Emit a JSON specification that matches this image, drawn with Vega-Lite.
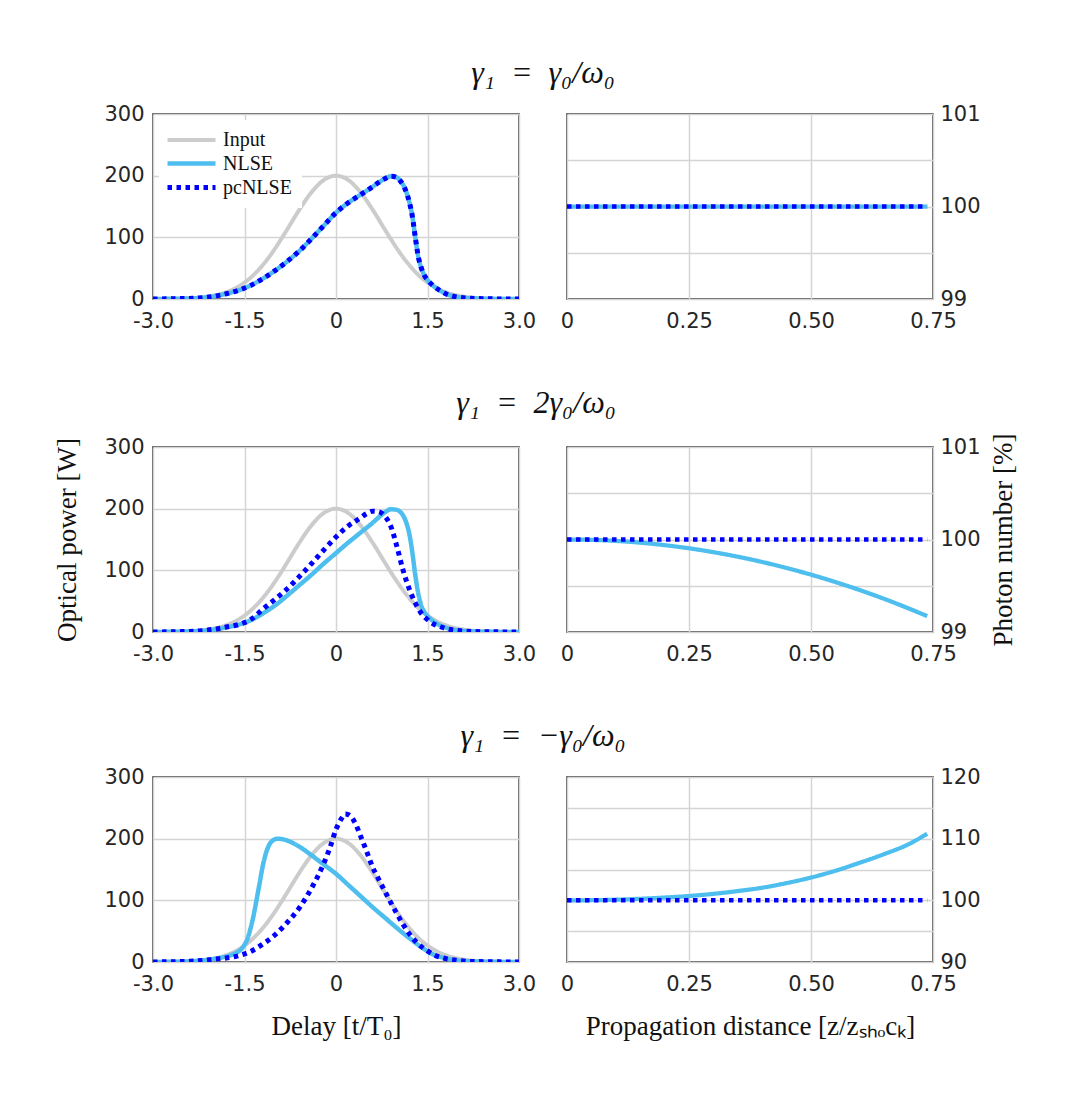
{
  "$schema": "https://vega.github.io/schema/vega-lite/v6.json",
  "background": "white",
  "padding": {"left": 53, "top": 57, "right": 10, "bottom": 10},
  "config": {
    "view": {"stroke": "#262626", "strokeWidth": 1.5},
    "axis": {
      "labelFont": "DejaVu Sans", "labelFontSize": 21, "labelColor": "#262626",
      "grid": true, "gridColor": "#d4d4d4", "gridWidth": 1.5,
      "ticks": false, "domain": false, "labelFlush": false, "labelOverlap": false, "labelBound": false,
      "titleFont": "Liberation Serif", "titleFontSize": 27, "titleFontWeight": "normal", "titleColor": "#111111"
    },
    "title": {"font": "Liberation Serif", "fontSize": 32, "fontWeight": "normal", "fontStyle": "italic", "color": "#111111", "anchor": "middle", "offset": 12}
  },
  "datasets": {
    "left": [
      {"p":0,"s":"Input","t":-3,"v":0.06},{"p":0,"s":"Input","t":-2.8,"v":0.2},{"p":0,"s":"Input","t":-2.6,"v":0.5},{"p":0,"s":"Input","t":-2.4,"v":1.2},{"p":0,"s":"Input","t":-2.2,"v":2.6},{"p":0,"s":"Input","t":-2,"v":5.6},{"p":0,"s":"Input","t":-1.8,"v":11.0},{"p":0,"s":"Input","t":-1.6,"v":20.2},{"p":0,"s":"Input","t":-1.4,"v":34.6},{"p":0,"s":"Input","t":-1.2,"v":55.1},{"p":0,"s":"Input","t":-1.1,"v":67.7},{"p":0,"s":"Input","t":-1,"v":81.7},{"p":0,"s":"Input","t":-0.9,"v":96.9},{"p":0,"s":"Input","t":-0.8,"v":112.8},{"p":0,"s":"Input","t":-0.6,"v":144.9},{"p":0,"s":"Input","t":-0.4,"v":173.3},{"p":0,"s":"Input","t":-0.2,"v":193.0},{"p":0,"s":"Input","t":0,"v":200},{"p":0,"s":"Input","t":0.2,"v":193.0},{"p":0,"s":"Input","t":0.4,"v":173.3},{"p":0,"s":"Input","t":0.6,"v":144.9},{"p":0,"s":"Input","t":0.8,"v":112.8},{"p":0,"s":"Input","t":0.9,"v":96.9},{"p":0,"s":"Input","t":1,"v":81.7},{"p":0,"s":"Input","t":1.1,"v":67.7},{"p":0,"s":"Input","t":1.2,"v":55.1},{"p":0,"s":"Input","t":1.4,"v":34.6},{"p":0,"s":"Input","t":1.6,"v":20.2},{"p":0,"s":"Input","t":1.8,"v":11.0},{"p":0,"s":"Input","t":2,"v":5.6},{"p":0,"s":"Input","t":2.2,"v":2.6},{"p":0,"s":"Input","t":2.4,"v":1.2},{"p":0,"s":"Input","t":2.6,"v":0.5},{"p":0,"s":"Input","t":2.8,"v":0.2},{"p":0,"s":"Input","t":3,"v":0.06},

      {"p":1,"s":"NLSE","t":-3,"v":0.1},{"p":1,"s":"NLSE","t":-2.6,"v":0.5},{"p":1,"s":"NLSE","t":-2.4,"v":1.0},{"p":1,"s":"NLSE","t":-2.2,"v":2.0},{"p":1,"s":"NLSE","t":-2,"v":4.5},{"p":1,"s":"NLSE","t":-1.8,"v":8.5},{"p":1,"s":"NLSE","t":-1.6,"v":14},{"p":1,"s":"NLSE","t":-1.4,"v":22},{"p":1,"s":"NLSE","t":-1.2,"v":33},{"p":1,"s":"NLSE","t":-1,"v":46},{"p":1,"s":"NLSE","t":-0.8,"v":61},{"p":1,"s":"NLSE","t":-0.6,"v":78},{"p":1,"s":"NLSE","t":-0.4,"v":98},{"p":1,"s":"NLSE","t":-0.2,"v":119},{"p":1,"s":"NLSE","t":0,"v":140},{"p":1,"s":"NLSE","t":0.2,"v":156},{"p":1,"s":"NLSE","t":0.4,"v":169},{"p":1,"s":"NLSE","t":0.6,"v":182},{"p":1,"s":"NLSE","t":0.7,"v":189},{"p":1,"s":"NLSE","t":0.8,"v":195},{"p":1,"s":"NLSE","t":0.9,"v":199},{"p":1,"s":"NLSE","t":1,"v":197},{"p":1,"s":"NLSE","t":1.05,"v":192},{"p":1,"s":"NLSE","t":1.1,"v":185},{"p":1,"s":"NLSE","t":1.15,"v":174},{"p":1,"s":"NLSE","t":1.2,"v":158},{"p":1,"s":"NLSE","t":1.25,"v":135},{"p":1,"s":"NLSE","t":1.3,"v":100},{"p":1,"s":"NLSE","t":1.35,"v":68},{"p":1,"s":"NLSE","t":1.4,"v":50},{"p":1,"s":"NLSE","t":1.45,"v":38},{"p":1,"s":"NLSE","t":1.5,"v":31},{"p":1,"s":"NLSE","t":1.6,"v":21},{"p":1,"s":"NLSE","t":1.7,"v":14},{"p":1,"s":"NLSE","t":1.8,"v":8.5},{"p":1,"s":"NLSE","t":1.9,"v":5},{"p":1,"s":"NLSE","t":2,"v":3},{"p":1,"s":"NLSE","t":2.2,"v":1.2},{"p":1,"s":"NLSE","t":2.4,"v":0.5},{"p":1,"s":"NLSE","t":2.6,"v":0.2},{"p":1,"s":"NLSE","t":3,"v":0},

      {"p":1,"s":"pcNLSE","t":-3,"v":0.1},{"p":1,"s":"pcNLSE","t":-2.6,"v":0.5},{"p":1,"s":"pcNLSE","t":-2.4,"v":1.0},{"p":1,"s":"pcNLSE","t":-2.2,"v":2.0},{"p":1,"s":"pcNLSE","t":-2,"v":4.5},{"p":1,"s":"pcNLSE","t":-1.8,"v":8.5},{"p":1,"s":"pcNLSE","t":-1.6,"v":14},{"p":1,"s":"pcNLSE","t":-1.4,"v":22},{"p":1,"s":"pcNLSE","t":-1.2,"v":33},{"p":1,"s":"pcNLSE","t":-1,"v":46},{"p":1,"s":"pcNLSE","t":-0.8,"v":61},{"p":1,"s":"pcNLSE","t":-0.6,"v":78},{"p":1,"s":"pcNLSE","t":-0.4,"v":98},{"p":1,"s":"pcNLSE","t":-0.2,"v":119},{"p":1,"s":"pcNLSE","t":0,"v":140},{"p":1,"s":"pcNLSE","t":0.2,"v":156},{"p":1,"s":"pcNLSE","t":0.4,"v":169},{"p":1,"s":"pcNLSE","t":0.6,"v":182},{"p":1,"s":"pcNLSE","t":0.7,"v":189},{"p":1,"s":"pcNLSE","t":0.8,"v":195},{"p":1,"s":"pcNLSE","t":0.9,"v":199},{"p":1,"s":"pcNLSE","t":1,"v":197},{"p":1,"s":"pcNLSE","t":1.05,"v":192},{"p":1,"s":"pcNLSE","t":1.1,"v":185},{"p":1,"s":"pcNLSE","t":1.15,"v":174},{"p":1,"s":"pcNLSE","t":1.2,"v":158},{"p":1,"s":"pcNLSE","t":1.25,"v":135},{"p":1,"s":"pcNLSE","t":1.3,"v":100},{"p":1,"s":"pcNLSE","t":1.35,"v":68},{"p":1,"s":"pcNLSE","t":1.4,"v":50},{"p":1,"s":"pcNLSE","t":1.45,"v":38},{"p":1,"s":"pcNLSE","t":1.5,"v":31},{"p":1,"s":"pcNLSE","t":1.6,"v":21},{"p":1,"s":"pcNLSE","t":1.7,"v":14},{"p":1,"s":"pcNLSE","t":1.8,"v":8.5},{"p":1,"s":"pcNLSE","t":1.9,"v":5},{"p":1,"s":"pcNLSE","t":2,"v":3},{"p":1,"s":"pcNLSE","t":2.2,"v":1.2},{"p":1,"s":"pcNLSE","t":2.4,"v":0.5},{"p":1,"s":"pcNLSE","t":2.6,"v":0.2},{"p":1,"s":"pcNLSE","t":3,"v":0},

      {"p":2,"s":"NLSE","t":-3,"v":0.1},{"p":2,"s":"NLSE","t":-2.6,"v":0.5},{"p":2,"s":"NLSE","t":-2.4,"v":1},{"p":2,"s":"NLSE","t":-2.2,"v":2},{"p":2,"s":"NLSE","t":-2,"v":4},{"p":2,"s":"NLSE","t":-1.8,"v":7.5},{"p":2,"s":"NLSE","t":-1.6,"v":12},{"p":2,"s":"NLSE","t":-1.4,"v":19},{"p":2,"s":"NLSE","t":-1.2,"v":30},{"p":2,"s":"NLSE","t":-1,"v":43},{"p":2,"s":"NLSE","t":-0.8,"v":59},{"p":2,"s":"NLSE","t":-0.6,"v":76},{"p":2,"s":"NLSE","t":-0.4,"v":93},{"p":2,"s":"NLSE","t":-0.2,"v":111},{"p":2,"s":"NLSE","t":0,"v":128},{"p":2,"s":"NLSE","t":0.2,"v":145},{"p":2,"s":"NLSE","t":0.4,"v":161},{"p":2,"s":"NLSE","t":0.6,"v":177},{"p":2,"s":"NLSE","t":0.7,"v":186},{"p":2,"s":"NLSE","t":0.8,"v":194},{"p":2,"s":"NLSE","t":0.9,"v":199},{"p":2,"s":"NLSE","t":1,"v":198},{"p":2,"s":"NLSE","t":1.05,"v":195},{"p":2,"s":"NLSE","t":1.1,"v":189},{"p":2,"s":"NLSE","t":1.15,"v":178},{"p":2,"s":"NLSE","t":1.2,"v":160},{"p":2,"s":"NLSE","t":1.25,"v":130},{"p":2,"s":"NLSE","t":1.3,"v":92},{"p":2,"s":"NLSE","t":1.35,"v":62},{"p":2,"s":"NLSE","t":1.4,"v":42},{"p":2,"s":"NLSE","t":1.45,"v":32},{"p":2,"s":"NLSE","t":1.5,"v":26},{"p":2,"s":"NLSE","t":1.6,"v":17},{"p":2,"s":"NLSE","t":1.7,"v":11},{"p":2,"s":"NLSE","t":1.8,"v":7},{"p":2,"s":"NLSE","t":1.9,"v":4},{"p":2,"s":"NLSE","t":2,"v":2.5},{"p":2,"s":"NLSE","t":2.2,"v":1},{"p":2,"s":"NLSE","t":2.6,"v":0.2},{"p":2,"s":"NLSE","t":3,"v":0},

      {"p":2,"s":"pcNLSE","t":-3,"v":0.1},{"p":2,"s":"pcNLSE","t":-2.6,"v":0.5},{"p":2,"s":"pcNLSE","t":-2.4,"v":1},{"p":2,"s":"pcNLSE","t":-2.2,"v":2.2},{"p":2,"s":"pcNLSE","t":-2,"v":4.5},{"p":2,"s":"pcNLSE","t":-1.8,"v":8},{"p":2,"s":"pcNLSE","t":-1.6,"v":12},{"p":2,"s":"pcNLSE","t":-1.4,"v":20},{"p":2,"s":"pcNLSE","t":-1.2,"v":37},{"p":2,"s":"pcNLSE","t":-1,"v":53},{"p":2,"s":"pcNLSE","t":-0.8,"v":70},{"p":2,"s":"pcNLSE","t":-0.6,"v":90},{"p":2,"s":"pcNLSE","t":-0.4,"v":111},{"p":2,"s":"pcNLSE","t":-0.2,"v":133},{"p":2,"s":"pcNLSE","t":0,"v":154},{"p":2,"s":"pcNLSE","t":0.2,"v":172},{"p":2,"s":"pcNLSE","t":0.4,"v":185},{"p":2,"s":"pcNLSE","t":0.5,"v":192},{"p":2,"s":"pcNLSE","t":0.6,"v":196},{"p":2,"s":"pcNLSE","t":0.7,"v":195},{"p":2,"s":"pcNLSE","t":0.8,"v":188},{"p":2,"s":"pcNLSE","t":0.9,"v":171},{"p":2,"s":"pcNLSE","t":1,"v":138},{"p":2,"s":"pcNLSE","t":1.1,"v":100},{"p":2,"s":"pcNLSE","t":1.2,"v":70},{"p":2,"s":"pcNLSE","t":1.3,"v":47},{"p":2,"s":"pcNLSE","t":1.4,"v":30},{"p":2,"s":"pcNLSE","t":1.5,"v":20},{"p":2,"s":"pcNLSE","t":1.6,"v":13},{"p":2,"s":"pcNLSE","t":1.7,"v":9},{"p":2,"s":"pcNLSE","t":1.8,"v":5.5},{"p":2,"s":"pcNLSE","t":2,"v":2.5},{"p":2,"s":"pcNLSE","t":2.2,"v":1},{"p":2,"s":"pcNLSE","t":2.6,"v":0.3},{"p":2,"s":"pcNLSE","t":3,"v":0},

      {"p":3,"s":"NLSE","t":-3,"v":0},{"p":3,"s":"NLSE","t":-2.6,"v":0.5},{"p":3,"s":"NLSE","t":-2.4,"v":1.2},{"p":3,"s":"NLSE","t":-2.2,"v":2.5},{"p":3,"s":"NLSE","t":-2,"v":5},{"p":3,"s":"NLSE","t":-1.8,"v":9},{"p":3,"s":"NLSE","t":-1.7,"v":12},{"p":3,"s":"NLSE","t":-1.6,"v":17},{"p":3,"s":"NLSE","t":-1.55,"v":21},{"p":3,"s":"NLSE","t":-1.5,"v":28},{"p":3,"s":"NLSE","t":-1.45,"v":38},{"p":3,"s":"NLSE","t":-1.4,"v":55},{"p":3,"s":"NLSE","t":-1.35,"v":76},{"p":3,"s":"NLSE","t":-1.3,"v":102},{"p":3,"s":"NLSE","t":-1.25,"v":129},{"p":3,"s":"NLSE","t":-1.2,"v":156},{"p":3,"s":"NLSE","t":-1.15,"v":176},{"p":3,"s":"NLSE","t":-1.1,"v":189},{"p":3,"s":"NLSE","t":-1.05,"v":196},{"p":3,"s":"NLSE","t":-1,"v":199},{"p":3,"s":"NLSE","t":-0.95,"v":200},{"p":3,"s":"NLSE","t":-0.9,"v":199.5},{"p":3,"s":"NLSE","t":-0.8,"v":197},{"p":3,"s":"NLSE","t":-0.6,"v":187},{"p":3,"s":"NLSE","t":-0.4,"v":173},{"p":3,"s":"NLSE","t":-0.2,"v":158},{"p":3,"s":"NLSE","t":0,"v":143},{"p":3,"s":"NLSE","t":0.2,"v":125},{"p":3,"s":"NLSE","t":0.4,"v":107},{"p":3,"s":"NLSE","t":0.6,"v":89},{"p":3,"s":"NLSE","t":0.8,"v":72},{"p":3,"s":"NLSE","t":1,"v":55},{"p":3,"s":"NLSE","t":1.2,"v":39},{"p":3,"s":"NLSE","t":1.4,"v":24},{"p":3,"s":"NLSE","t":1.6,"v":12},{"p":3,"s":"NLSE","t":1.8,"v":6},{"p":3,"s":"NLSE","t":2,"v":2.5},{"p":3,"s":"NLSE","t":2.2,"v":1.2},{"p":3,"s":"NLSE","t":2.6,"v":0.3},{"p":3,"s":"NLSE","t":3,"v":0},

      {"p":3,"s":"pcNLSE","t":-3,"v":0.1},{"p":3,"s":"pcNLSE","t":-2.6,"v":0.6},{"p":3,"s":"pcNLSE","t":-2.4,"v":1.3},{"p":3,"s":"pcNLSE","t":-2.2,"v":2.5},{"p":3,"s":"pcNLSE","t":-2,"v":4.5},{"p":3,"s":"pcNLSE","t":-1.8,"v":6.5},{"p":3,"s":"pcNLSE","t":-1.6,"v":10},{"p":3,"s":"pcNLSE","t":-1.4,"v":17},{"p":3,"s":"pcNLSE","t":-1.2,"v":29},{"p":3,"s":"pcNLSE","t":-1,"v":44},{"p":3,"s":"pcNLSE","t":-0.8,"v":64},{"p":3,"s":"pcNLSE","t":-0.6,"v":88},{"p":3,"s":"pcNLSE","t":-0.4,"v":120},{"p":3,"s":"pcNLSE","t":-0.2,"v":160},{"p":3,"s":"pcNLSE","t":-0.1,"v":185},{"p":3,"s":"pcNLSE","t":0,"v":215},{"p":3,"s":"pcNLSE","t":0.1,"v":234},{"p":3,"s":"pcNLSE","t":0.15,"v":240},{"p":3,"s":"pcNLSE","t":0.2,"v":239},{"p":3,"s":"pcNLSE","t":0.3,"v":228},{"p":3,"s":"pcNLSE","t":0.4,"v":205},{"p":3,"s":"pcNLSE","t":0.5,"v":180},{"p":3,"s":"pcNLSE","t":0.6,"v":154},{"p":3,"s":"pcNLSE","t":0.7,"v":134},{"p":3,"s":"pcNLSE","t":0.8,"v":115},{"p":3,"s":"pcNLSE","t":0.9,"v":96},{"p":3,"s":"pcNLSE","t":1,"v":78},{"p":3,"s":"pcNLSE","t":1.1,"v":61},{"p":3,"s":"pcNLSE","t":1.2,"v":46},{"p":3,"s":"pcNLSE","t":1.3,"v":34},{"p":3,"s":"pcNLSE","t":1.4,"v":25},{"p":3,"s":"pcNLSE","t":1.5,"v":18},{"p":3,"s":"pcNLSE","t":1.6,"v":12},{"p":3,"s":"pcNLSE","t":1.8,"v":5.5},{"p":3,"s":"pcNLSE","t":2,"v":2.5},{"p":3,"s":"pcNLSE","t":2.2,"v":1},{"p":3,"s":"pcNLSE","t":2.6,"v":0.3},{"p":3,"s":"pcNLSE","t":3,"v":0}
    ],
    "right": [
      {"p":1,"s":"NLSE","z":0,"n":100},{"p":1,"s":"NLSE","z":0.738,"n":100},
      {"p":1,"s":"pcNLSE","z":0,"n":100},{"p":1,"s":"pcNLSE","z":0.738,"n":100},
      {"p":2,"s":"NLSE","z":0,"n":100},{"p":2,"s":"NLSE","z":0.05,"n":99.996},{"p":2,"s":"NLSE","z":0.1,"n":99.985},{"p":2,"s":"NLSE","z":0.15,"n":99.966},{"p":2,"s":"NLSE","z":0.2,"n":99.939},{"p":2,"s":"NLSE","z":0.25,"n":99.905},{"p":2,"s":"NLSE","z":0.3,"n":99.863},{"p":2,"s":"NLSE","z":0.35,"n":99.814},{"p":2,"s":"NLSE","z":0.4,"n":99.757},{"p":2,"s":"NLSE","z":0.45,"n":99.692},{"p":2,"s":"NLSE","z":0.5,"n":99.62},{"p":2,"s":"NLSE","z":0.55,"n":99.54},{"p":2,"s":"NLSE","z":0.6,"n":99.453},{"p":2,"s":"NLSE","z":0.65,"n":99.358},{"p":2,"s":"NLSE","z":0.7,"n":99.255},{"p":2,"s":"NLSE","z":0.738,"n":99.172},
      {"p":2,"s":"pcNLSE","z":0,"n":100},{"p":2,"s":"pcNLSE","z":0.738,"n":100},
      {"p":3,"s":"NLSE","z":0,"n":100},{"p":3,"s":"NLSE","z":0.05,"n":100.02},{"p":3,"s":"NLSE","z":0.1,"n":100.1},{"p":3,"s":"NLSE","z":0.15,"n":100.25},{"p":3,"s":"NLSE","z":0.2,"n":100.45},{"p":3,"s":"NLSE","z":0.25,"n":100.7},{"p":3,"s":"NLSE","z":0.3,"n":101.05},{"p":3,"s":"NLSE","z":0.35,"n":101.5},{"p":3,"s":"NLSE","z":0.4,"n":102.05},{"p":3,"s":"NLSE","z":0.45,"n":102.8},{"p":3,"s":"NLSE","z":0.5,"n":103.7},{"p":3,"s":"NLSE","z":0.55,"n":104.8},{"p":3,"s":"NLSE","z":0.6,"n":106.1},{"p":3,"s":"NLSE","z":0.65,"n":107.5},{"p":3,"s":"NLSE","z":0.7,"n":109.1},{"p":3,"s":"NLSE","z":0.738,"n":110.8},
      {"p":3,"s":"pcNLSE","z":0,"n":100},{"p":3,"s":"pcNLSE","z":0.738,"n":100}
    ]
  },
  "spacing": 55,
  "resolve": {
    "scale": {"color": "independent", "strokeDash": "independent", "strokeWidth": "independent"},
    "legend": {"color": "independent", "strokeDash": "independent", "strokeWidth": "independent"}
  },
  "vconcat": [
    {
      "title": {"text": "γ₁\u2002=\u2002γ₀/ω₀", "dx": 1},
      "spacing": 22,
      "resolve": {
        "scale": {"color": "independent", "strokeDash": "independent", "strokeWidth": "independent"},
        "legend": {"color": "independent", "strokeDash": "independent", "strokeWidth": "independent"}
      },
      "hconcat": [
        {
          "width": 366, "height": 185,
          "data": {"name": "left"},
          "transform": [{"filter": "datum.p == 0 || datum.p == 1"}],
          "mark": {"type": "line", "interpolate": "monotone", "clip": true},
          "encoding": {
            "x": {"field": "t", "type": "quantitative", "scale": {"domain": [-3, 3], "nice": false, "zero": false},
                  "axis": {"values": [-3, -1.5, 0, 1.5, 3], "labelPadding": 11, "title": null,
                           "labelExpr": "datum.value == 0 ? '0' : (datum.value < 0 ? '-' : '') + format(abs(datum.value), '.1f')"}},
            "y": {"field": "v", "type": "quantitative", "scale": {"domain": [0, 300], "nice": false},
                  "axis": {"values": [0, 100, 200, 300], "labelPadding": 9, "title": null}},
            "color": {"field": "s", "type": "nominal",
                      "scale": {"domain": ["Input", "NLSE", "pcNLSE"], "range": ["#cccccc", "#4dbeee", "#0000ff"]},
                      "legend": {"title": null, "orient": "top-left", "offset": 6, "padding": 10, "fillColor": "white",
                                 "symbolType": "M-1.5,0H4.5", "symbolSize": 256, "labelOffset": 33,
                                 "labelFont": "Liberation Serif", "labelFontSize": 20, "labelColor": "#111111", "rowPadding": 3}},
            "strokeDash": {"field": "s", "type": "nominal",
                      "scale": {"domain": ["Input", "NLSE", "pcNLSE"], "range": [[1, 0], [1, 0], [4.5, 4.5]]},
                      "legend": {"title": null, "orient": "top-left", "offset": 6, "padding": 10, "fillColor": "white",
                                 "symbolType": "M-1.5,0H4.5", "symbolSize": 256, "labelOffset": 33,
                                 "labelFont": "Liberation Serif", "labelFontSize": 20, "labelColor": "#111111", "rowPadding": 3}},
            "strokeWidth": {"field": "s", "type": "ordinal",
                      "scale": {"domain": ["Input", "NLSE", "pcNLSE"], "range": [4, 5, 4]},
                      "legend": {"title": null, "orient": "top-left", "offset": 6, "padding": 10, "fillColor": "white",
                                 "symbolType": "M-1.5,0H4.5", "symbolSize": 256, "labelOffset": 33,
                                 "labelFont": "Liberation Serif", "labelFontSize": 20, "labelColor": "#111111", "rowPadding": 3}}
          }
        },
        {
          "width": 366, "height": 185,
          "data": {"name": "right"},
          "transform": [{"filter": "datum.p == 1"}],
          "mark": {"type": "line", "interpolate": "monotone", "clip": true},
          "encoding": {
            "x": {"field": "z", "type": "quantitative", "scale": {"domain": [0, 0.75], "nice": false, "zero": false},
                  "axis": {"values": [0, 0.25, 0.5, 0.75], "labelPadding": 11, "title": null,
                           "labelExpr": "datum.value == 0 ? '0' : format(datum.value, '.2f')"}},
            "y": {"field": "n", "type": "quantitative", "scale": {"domain": [99, 101], "nice": false, "zero": false},
                  "axis": {"orient": "right", "values": [99, 99.5, 100, 100.5, 101], "labelPadding": 7, "title": null,
                           "labelExpr": "datum.value % 1 == 0 ? format(datum.value, 'd') : ''"}},
            "color": {"field": "s", "type": "nominal", "scale": {"domain": ["Input", "NLSE", "pcNLSE"], "range": ["#cccccc", "#4dbeee", "#0000ff"]}, "legend": null},
            "strokeDash": {"field": "s", "type": "nominal", "scale": {"domain": ["Input", "NLSE", "pcNLSE"], "range": [[1, 0], [1, 0], [4.5, 4.5]]}, "legend": null},
            "strokeWidth": {"field": "s", "type": "ordinal", "scale": {"domain": ["Input", "NLSE", "pcNLSE"], "range": [4, 4.5, 4]}, "legend": null}
          }
        }
      ]
    },
    {
      "title": {"text": "γ₁\u2002=\u20022γ₀/ω₀", "dx": 1},
      "spacing": 22,
      "resolve": {
        "scale": {"color": "independent", "strokeDash": "independent", "strokeWidth": "independent"},
        "legend": {"color": "independent", "strokeDash": "independent", "strokeWidth": "independent"}
      },
      "hconcat": [
        {
          "width": 366, "height": 185,
          "data": {"name": "left"},
          "transform": [{"filter": "datum.p == 0 || datum.p == 2"}],
          "mark": {"type": "line", "interpolate": "monotone", "clip": true},
          "encoding": {
            "x": {"field": "t", "type": "quantitative", "scale": {"domain": [-3, 3], "nice": false, "zero": false},
                  "axis": {"values": [-3, -1.5, 0, 1.5, 3], "labelPadding": 11, "title": null,
                           "labelExpr": "datum.value == 0 ? '0' : (datum.value < 0 ? '-' : '') + format(abs(datum.value), '.1f')"}},
            "y": {"field": "v", "type": "quantitative", "scale": {"domain": [0, 300], "nice": false},
                  "axis": {"values": [0, 100, 200, 300], "labelPadding": 9, "title": "Optical power [W]", "titlePadding": 22}},
            "color": {"field": "s", "type": "nominal", "scale": {"domain": ["Input", "NLSE", "pcNLSE"], "range": ["#cccccc", "#4dbeee", "#0000ff"]}, "legend": null},
            "strokeDash": {"field": "s", "type": "nominal", "scale": {"domain": ["Input", "NLSE", "pcNLSE"], "range": [[1, 0], [1, 0], [4.5, 4.5]]}, "legend": null},
            "strokeWidth": {"field": "s", "type": "ordinal", "scale": {"domain": ["Input", "NLSE", "pcNLSE"], "range": [4, 5, 4]}, "legend": null}
          }
        },
        {
          "width": 366, "height": 185,
          "data": {"name": "right"},
          "transform": [{"filter": "datum.p == 2"}],
          "mark": {"type": "line", "interpolate": "monotone", "clip": true},
          "encoding": {
            "x": {"field": "z", "type": "quantitative", "scale": {"domain": [0, 0.75], "nice": false, "zero": false},
                  "axis": {"values": [0, 0.25, 0.5, 0.75], "labelPadding": 11, "title": null,
                           "labelExpr": "datum.value == 0 ? '0' : format(datum.value, '.2f')"}},
            "y": {"field": "n", "type": "quantitative", "scale": {"domain": [99, 101], "nice": false, "zero": false},
                  "axis": {"orient": "right", "values": [99, 99.5, 100, 100.5, 101], "labelPadding": 7,
                           "title": "Photon number [%]", "titleAngle": 270, "titlePadding": 37,
                           "labelExpr": "datum.value % 1 == 0 ? format(datum.value, 'd') : ''"}},
            "color": {"field": "s", "type": "nominal", "scale": {"domain": ["Input", "NLSE", "pcNLSE"], "range": ["#cccccc", "#4dbeee", "#0000ff"]}, "legend": null},
            "strokeDash": {"field": "s", "type": "nominal", "scale": {"domain": ["Input", "NLSE", "pcNLSE"], "range": [[1, 0], [1, 0], [4.5, 4.5]]}, "legend": null},
            "strokeWidth": {"field": "s", "type": "ordinal", "scale": {"domain": ["Input", "NLSE", "pcNLSE"], "range": [4, 4.5, 4]}, "legend": null}
          }
        }
      ]
    },
    {
      "title": {"text": "γ₁\u2002=\u2002−γ₀/ω₀", "dx": 1},
      "spacing": 22,
      "resolve": {
        "scale": {"color": "independent", "strokeDash": "independent", "strokeWidth": "independent"},
        "legend": {"color": "independent", "strokeDash": "independent", "strokeWidth": "independent"}
      },
      "hconcat": [
        {
          "width": 366, "height": 185,
          "data": {"name": "left"},
          "transform": [{"filter": "datum.p == 0 || datum.p == 3"}],
          "mark": {"type": "line", "interpolate": "monotone", "clip": true},
          "encoding": {
            "x": {"field": "t", "type": "quantitative", "scale": {"domain": [-3, 3], "nice": false, "zero": false},
                  "axis": {"values": [-3, -1.5, 0, 1.5, 3], "labelPadding": 11, "title": "Delay [t/T₀]", "titlePadding": 19,
                           "labelExpr": "datum.value == 0 ? '0' : (datum.value < 0 ? '-' : '') + format(abs(datum.value), '.1f')"}},
            "y": {"field": "v", "type": "quantitative", "scale": {"domain": [0, 300], "nice": false},
                  "axis": {"values": [0, 100, 200, 300], "labelPadding": 9, "title": null}},
            "color": {"field": "s", "type": "nominal", "scale": {"domain": ["Input", "NLSE", "pcNLSE"], "range": ["#cccccc", "#4dbeee", "#0000ff"]}, "legend": null},
            "strokeDash": {"field": "s", "type": "nominal", "scale": {"domain": ["Input", "NLSE", "pcNLSE"], "range": [[1, 0], [1, 0], [4.5, 4.5]]}, "legend": null},
            "strokeWidth": {"field": "s", "type": "ordinal", "scale": {"domain": ["Input", "NLSE", "pcNLSE"], "range": [4, 5, 4]}, "legend": null}
          }
        },
        {
          "width": 366, "height": 185,
          "data": {"name": "right"},
          "transform": [{"filter": "datum.p == 3"}],
          "mark": {"type": "line", "interpolate": "monotone", "clip": true},
          "encoding": {
            "x": {"field": "z", "type": "quantitative", "scale": {"domain": [0, 0.75], "nice": false, "zero": false},
                  "axis": {"values": [0, 0.25, 0.5, 0.75], "labelPadding": 11, "title": "Propagation distance [z/zₛₕₒcₖ]", "titlePadding": 19,
                           "labelExpr": "datum.value == 0 ? '0' : format(datum.value, '.2f')"}},
            "y": {"field": "n", "type": "quantitative", "scale": {"domain": [90, 120], "nice": false, "zero": false},
                  "axis": {"orient": "right", "values": [90, 95, 100, 105, 110, 115, 120], "labelPadding": 7, "title": null,
                           "labelExpr": "datum.value % 10 == 0 ? format(datum.value, 'd') : ''"}},
            "color": {"field": "s", "type": "nominal", "scale": {"domain": ["Input", "NLSE", "pcNLSE"], "range": ["#cccccc", "#4dbeee", "#0000ff"]}, "legend": null},
            "strokeDash": {"field": "s", "type": "nominal", "scale": {"domain": ["Input", "NLSE", "pcNLSE"], "range": [[1, 0], [1, 0], [4.5, 4.5]]}, "legend": null},
            "strokeWidth": {"field": "s", "type": "ordinal", "scale": {"domain": ["Input", "NLSE", "pcNLSE"], "range": [4, 4.5, 4]}, "legend": null}
          }
        }
      ]
    }
  ]
}
